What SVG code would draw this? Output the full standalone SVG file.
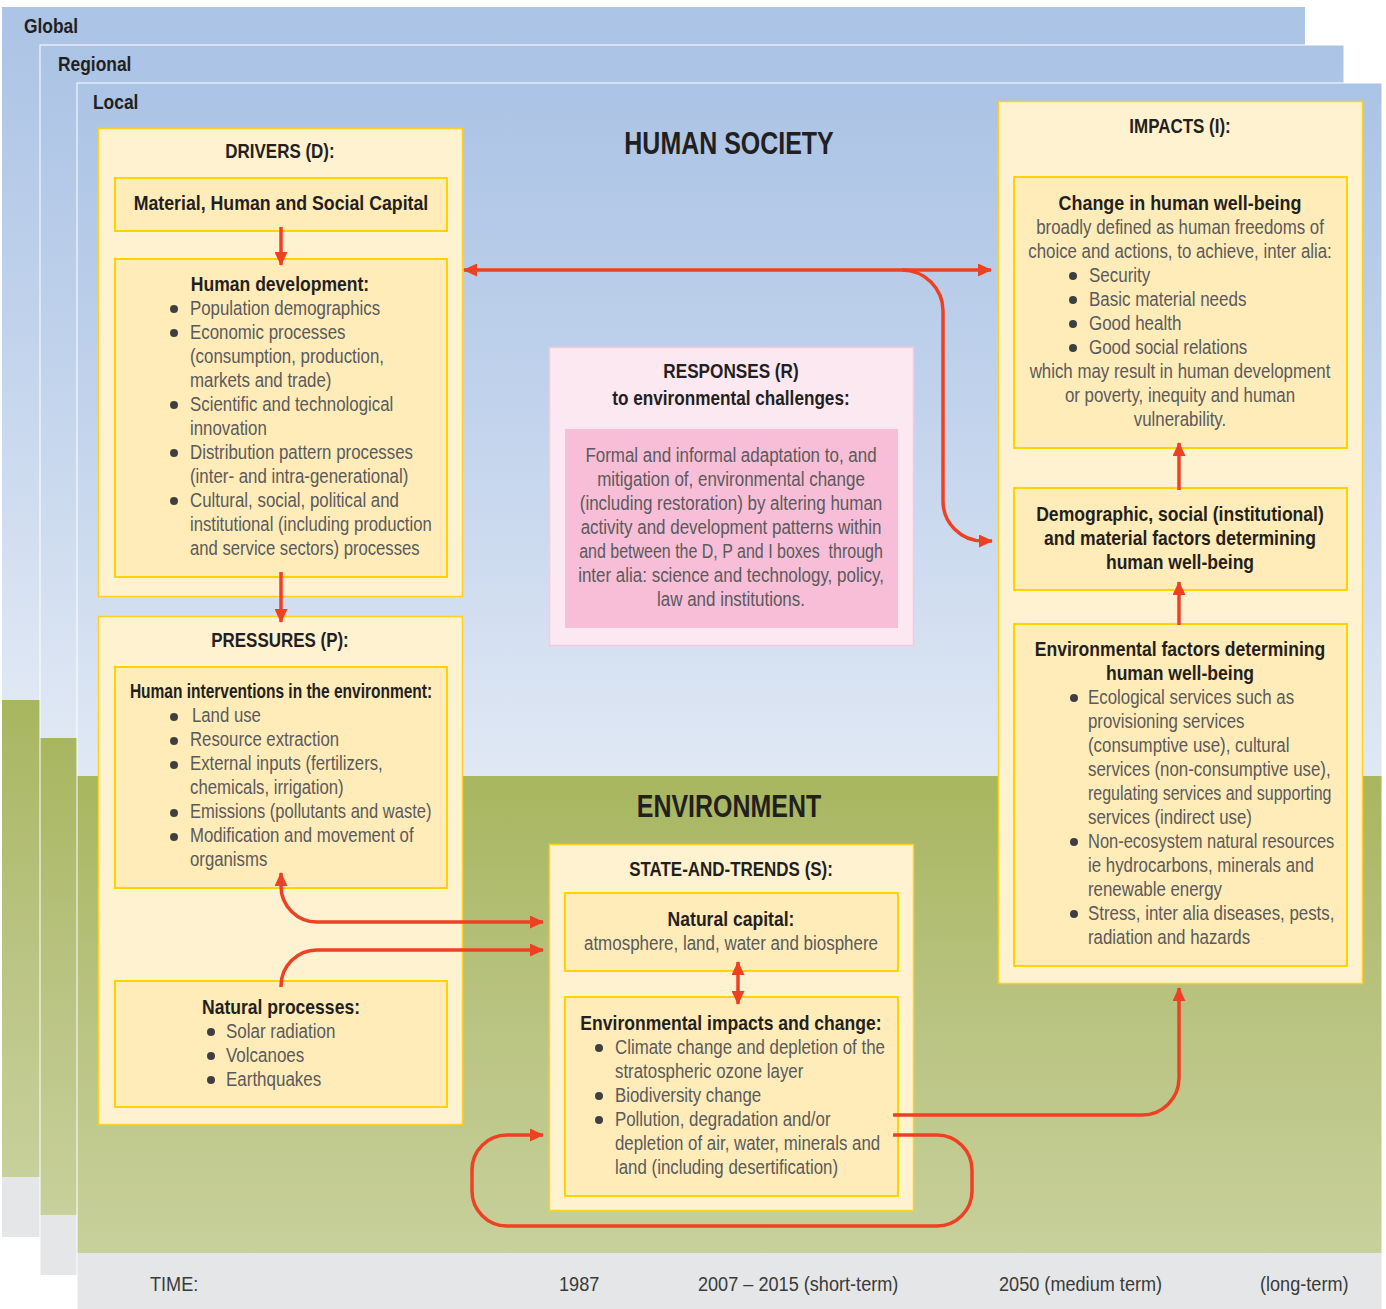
<svg xmlns="http://www.w3.org/2000/svg" width="1386" height="1309" viewBox="0 0 1386 1309">
<defs>
<linearGradient id="sky" x1="0" y1="0" x2="0" y2="1">
<stop offset="0" stop-color="#abc3e5"/>
<stop offset="0.5" stop-color="#c3d4ec"/>
<stop offset="1" stop-color="#e0e8f4"/>
</linearGradient>
<linearGradient id="grass" x1="0" y1="0" x2="0" y2="1">
<stop offset="0" stop-color="#a8b65f"/>
<stop offset="0.5" stop-color="#b9c381"/>
<stop offset="1" stop-color="#c8d09b"/>
</linearGradient>
<marker id="ah" viewBox="0 0 14 13" refX="13" refY="6.5" markerWidth="14" markerHeight="13" markerUnits="userSpaceOnUse" orient="auto-start-reverse">
<path d="M0,0 L14,6.5 L0,13 z" fill="#ee4124"/>
</marker>
<style>
text{font-family:'Liberation Sans',Arial,sans-serif;}
.lay{font-size:20px;font-weight:bold;fill:#231f20;}
.big{font-size:32px;font-weight:bold;fill:#231f20;text-anchor:middle;}
.h{font-size:19.5px;font-weight:bold;fill:#231f20;}
.hc{font-size:19.5px;font-weight:bold;fill:#231f20;text-anchor:middle;}
.b{font-size:19.5px;fill:#5a5a5c;}
.bc{font-size:19.5px;fill:#5a5a5c;text-anchor:middle;}
.tm{font-size:19.5px;fill:#3a3a3a;}
.outer{fill:#fff2d0;stroke:#ffd21f;stroke-width:1.5;}
.inner{fill:#ffecb8;stroke:#ffd200;stroke-width:2;}
.pout{fill:#fce8f1;stroke:#f8c8dc;stroke-width:1.5;}
.pin{fill:#f8bed7;}
.dot{fill:#3f3f41;}
.con{fill:none;stroke:#ee4124;stroke-width:3.5;}
</style>
</defs>

<g id="layers">
<rect x="2" y="7" width="1303" height="693" fill="url(#sky)"/>
<rect x="2" y="700" width="1303" height="477" fill="url(#grass)"/>
<rect x="2" y="1177" width="1303" height="60" fill="#e5e6e8"/>
<rect x="39.5" y="44.5" width="1304" height="1231" fill="#ffffff"/>
<rect x="40.5" y="45.5" width="1303" height="693" fill="url(#sky)"/>
<rect x="40.5" y="738" width="1303" height="477" fill="url(#grass)"/>
<rect x="40.5" y="1215" width="1303" height="60" fill="#e5e6e8"/>
<rect x="76.5" y="82.5" width="1305" height="1227" fill="#ffffff"/>
<rect x="77.5" y="83.5" width="1304" height="693" fill="url(#sky)"/>
<rect x="77.5" y="776" width="1304" height="477" fill="url(#grass)"/>
<rect x="77.5" y="1253" width="1304" height="56" fill="#e5e6e8"/>
<g transform="scale(0.87,1)">
<text class="lay" x="27.6" y="33">Global</text>
<text class="lay" x="66.7" y="71">Regional</text>
<text class="lay" x="106.9" y="109">Local</text>
</g>
</g>

<g id="titles">
<g transform="translate(729,0) scale(0.78,1)">
<text class="big" x="0" y="154">HUMAN SOCIETY</text>
<text class="big" x="0" y="817">ENVIRONMENT</text>
</g>
</g>

<g id="time">
<g transform="scale(0.93,1)">
<text class="tm" x="161.3" y="1291">TIME:</text>
<text class="tm" x="601.1" y="1291">1987</text>
<text class="tm" x="750.5" y="1291">2007 – 2015 (short-term)</text>
<text class="tm" x="1074.2" y="1291">2050 (medium term)</text>
<text class="tm" x="1354.8" y="1291">(long-term)</text>
</g>
</g>

<g id="drivers">
<rect class="outer" x="98.5" y="128.5" width="364" height="468"/>
<g transform="translate(280,0) scale(0.87,1)"><text class="hc" x="0" y="158">DRIVERS (D):</text></g>
</g>
<g id="capital">
<rect class="inner" x="115" y="178" width="332" height="53"/>
<g transform="translate(281,0) scale(0.91,1)"><text class="hc" x="0" y="210">Material, Human and Social Capital</text></g>
</g>
<g id="human-development">
<rect class="inner" x="115" y="259" width="332" height="318"/>
<g transform="translate(280,0) scale(0.9,1)"><text class="hc" x="0" y="291">Human development:</text></g>
<circle class="dot" cx="174" cy="309" r="4"/>
<circle class="dot" cx="174" cy="333" r="4"/>
<circle class="dot" cx="174" cy="405" r="4"/>
<circle class="dot" cx="174" cy="453" r="4"/>
<circle class="dot" cx="174" cy="501" r="4"/>
<g transform="translate(190,0) scale(0.865,1)">
<text class="b" x="0" y="315">Population demographics</text>
<text class="b" x="0" y="339">Economic processes</text>
<text class="b" x="0" y="363">(consumption, production,</text>
<text class="b" x="0" y="387">markets and trade)</text>
<text class="b" x="0" y="411">Scientific and technological</text>
<text class="b" x="0" y="435">innovation</text>
<text class="b" x="0" y="459">Distribution pattern processes</text>
<text class="b" x="0" y="483">(inter- and intra-generational)</text>
<text class="b" x="0" y="507">Cultural, social, political and</text>
</g>
<g transform="translate(190,0) scale(0.855,1)">
<text class="b" x="0" y="531">institutional (including production</text>
<text class="b" x="0" y="555">and service sectors) processes</text>
</g>
</g>

<g id="pressures">
<rect class="outer" x="98.5" y="616.5" width="364" height="508"/>
<g transform="translate(280,0) scale(0.87,1)"><text class="hc" x="0" y="647">PRESSURES (P):</text></g>
</g>
<g id="interventions">
<rect class="inner" x="115" y="667" width="332" height="221"/>
<g transform="translate(281,0) scale(0.795,1)"><text class="hc" x="0" y="698">Human interventions in the environment:</text></g>
<circle class="dot" cx="174" cy="717" r="4"/>
<circle class="dot" cx="174" cy="741" r="4"/>
<circle class="dot" cx="174" cy="765" r="4"/>
<circle class="dot" cx="174" cy="813" r="4"/>
<circle class="dot" cx="174" cy="837" r="4"/>
<g transform="translate(190,0) scale(0.86,1)">
<text class="b" x="2.3" y="722">Land use</text>
<text class="b" x="0" y="746">Resource extraction</text>
<text class="b" x="0" y="770">External inputs (fertilizers,</text>
<text class="b" x="0" y="794">chemicals, irrigation)</text>
<text class="b" x="0" y="842">Modification and movement of</text>
<text class="b" x="0" y="866">organisms</text>
</g>
<g transform="translate(190,0) scale(0.848,1)">
<text class="b" x="0" y="818">Emissions (pollutants and waste)</text>
</g>
</g>
<g id="natural-processes">
<rect class="inner" x="115" y="981" width="332" height="126"/>
<g transform="translate(281,0) scale(0.9,1)"><text class="hc" x="0" y="1014">Natural processes:</text></g>
<circle class="dot" cx="211" cy="1032" r="4"/>
<circle class="dot" cx="211" cy="1056" r="4"/>
<circle class="dot" cx="211" cy="1080" r="4"/>
<g transform="translate(226,0) scale(0.87,1)">
<text class="b" x="0" y="1038">Solar radiation</text>
<text class="b" x="0" y="1062">Volcanoes</text>
<text class="b" x="0" y="1086">Earthquakes</text>
</g>
</g>

<g id="responses">
<rect class="pout" x="549.5" y="347.5" width="364" height="298"/>
<g transform="translate(731,0) scale(0.88,1)">
<text class="hc" x="0" y="378">RESPONSES (R)</text>
<text class="hc" x="0" y="405">to environmental challenges:</text>
</g>
<rect class="pin" x="565" y="429" width="333" height="199"/>
<g transform="translate(731,0) scale(0.87,1)">
<text class="bc" x="0" y="462">Formal and informal adaptation to, and</text>
<text class="bc" x="0" y="486">mitigation of, environmental change</text>
<text class="bc" x="0" y="510">(including restoration) by altering human</text>
<text class="bc" x="0" y="534">activity and development patterns within</text>
<text class="bc" x="0" y="582">inter alia: science and technology, policy,</text>
<text class="bc" x="0" y="606">law and institutions.</text>
</g>
<g transform="translate(731,0) scale(0.82,1)">
<text class="bc" x="0" y="558" xml:space="preserve">and between the D, P and I boxes  through</text>
</g>
</g>

<g id="state">
<rect class="outer" x="549.5" y="844.5" width="364" height="366"/>
<g transform="translate(731,0) scale(0.87,1)"><text class="hc" x="0" y="876">STATE-AND-TRENDS (S):</text></g>
</g>
<g id="natural-capital">
<rect class="inner" x="565" y="893" width="333" height="78"/>
<g transform="translate(731,0) scale(0.9,1)"><text class="hc" x="0" y="926">Natural capital:</text></g>
<g transform="translate(731,0) scale(0.87,1)"><text class="bc" x="0" y="950">atmosphere, land, water and biosphere</text></g>
</g>
<g id="env-impacts">
<rect class="inner" x="565" y="997" width="333" height="199"/>
<g transform="translate(731,0) scale(0.9,1)"><text class="hc" x="0" y="1030">Environmental impacts and change:</text></g>
<circle class="dot" cx="599" cy="1048" r="4"/>
<circle class="dot" cx="599" cy="1096" r="4"/>
<circle class="dot" cx="599" cy="1120" r="4"/>
<g transform="translate(615,0) scale(0.865,1)">
<text class="b" x="0" y="1054">Climate change and depletion of the</text>
<text class="b" x="0" y="1078">stratospheric ozone layer</text>
<text class="b" x="0" y="1102">Biodiversity change</text>
<text class="b" x="0" y="1126">Pollution, degradation and/or</text>
<text class="b" x="0" y="1150">depletion of air, water, minerals and</text>
<text class="b" x="0" y="1174">land (including desertification)</text>
</g>
</g>

<g id="impacts">
<rect class="outer" x="998.5" y="101.5" width="364" height="882"/>
<g transform="translate(1180,0) scale(0.87,1)"><text class="hc" x="0" y="133">IMPACTS (I):</text></g>
</g>
<g id="well-being">
<rect class="inner" x="1014" y="177" width="333" height="271"/>
<g transform="translate(1180,0) scale(0.92,1)"><text class="hc" x="0" y="210">Change in human well-being</text></g>
<g transform="translate(1180,0) scale(0.865,1)">
<text class="bc" x="0" y="234">broadly defined as human freedoms of</text>
<text class="bc" x="0" y="258">choice and actions, to achieve, inter alia:</text>
<text class="bc" x="0" y="378">which may result in human development</text>
<text class="bc" x="0" y="402">or poverty, inequity and human</text>
<text class="bc" x="0" y="426">vulnerability.</text>
</g>
<circle class="dot" cx="1073" cy="276" r="4"/>
<circle class="dot" cx="1073" cy="300" r="4"/>
<circle class="dot" cx="1073" cy="324" r="4"/>
<circle class="dot" cx="1073" cy="348" r="4"/>
<g transform="translate(1089,0) scale(0.87,1)">
<text class="b" x="0" y="282">Security</text>
<text class="b" x="0" y="306">Basic material needs</text>
<text class="b" x="0" y="330">Good health</text>
<text class="b" x="0" y="354">Good social relations</text>
</g>
</g>
<g id="demographic">
<rect class="inner" x="1014" y="488" width="333" height="102"/>
<g transform="translate(1180,0) scale(0.9,1)">
<text class="hc" x="0" y="521">Demographic, social (institutional)</text>
<text class="hc" x="0" y="545">and material factors determining</text>
<text class="hc" x="0" y="569">human well-being</text>
</g>
</g>
<g id="env-factors">
<rect class="inner" x="1014" y="624" width="333" height="342"/>
<g transform="translate(1180,0) scale(0.9,1)">
<text class="hc" x="0" y="656">Environmental factors determining</text>
<text class="hc" x="0" y="680">human well-being</text>
</g>
<circle class="dot" cx="1074" cy="698" r="4"/>
<circle class="dot" cx="1074" cy="842" r="4"/>
<circle class="dot" cx="1074" cy="914" r="4"/>
<g transform="translate(1088,0) scale(0.865,1)">
<text class="b" x="0" y="704">Ecological services such as</text>
<text class="b" x="0" y="728">provisioning services</text>
<text class="b" x="0" y="752">(consumptive use), cultural</text>
<text class="b" x="0" y="776">services (non-consumptive use),</text>
<text class="b" x="0" y="824">services (indirect use)</text>
<text class="b" x="0" y="872">ie hydrocarbons, minerals and</text>
<text class="b" x="0" y="896">renewable energy</text>
<text class="b" x="0" y="920">Stress, inter alia diseases, pests,</text>
<text class="b" x="0" y="944">radiation and hazards</text>
</g>
<g transform="translate(1088,0) scale(0.82,1)">
<text class="b" x="0" y="800">regulating services and supporting</text>
</g>
<g transform="translate(1088,0) scale(0.845,1)">
<text class="b" x="0" y="848">Non-ecosystem natural resources</text>
</g>
</g>

<g id="connectors">
<path class="con" d="M281,227 L281,265" marker-end="url(#ah)"/>
<path class="con" d="M281,572 L281,622" marker-end="url(#ah)"/>
<path class="con" d="M464,270 L991,270" marker-start="url(#ah)" marker-end="url(#ah)"/>
<path class="con" d="M902,270 A41,41 0 0 1 943,311 L943,501 A40,40 0 0 0 983,541 L992,541" marker-end="url(#ah)"/>
<path class="con" d="M281,873 L281,886 A36,36 0 0 0 317,922 L543,922" marker-start="url(#ah)" marker-end="url(#ah)"/>
<path class="con" d="M281,987 L281,986 A36,36 0 0 1 317,950 L543,950" marker-end="url(#ah)"/>
<path class="con" d="M738,962 L738,1004" marker-start="url(#ah)" marker-end="url(#ah)"/>
<path class="con" d="M893,1115 L1142,1115 A37,37 0 0 0 1179,1078 L1179,988" marker-end="url(#ah)"/>
<path class="con" d="M893,1135 L937,1135 A35,35 0 0 1 972,1170 L972,1191 A35,35 0 0 1 937,1226 L507,1226 A35,35 0 0 1 472,1191 L472,1170 A35,35 0 0 1 507,1135 L543,1135" marker-end="url(#ah)"/>
<path class="con" d="M1179,490 L1179,443" marker-end="url(#ah)"/>
<path class="con" d="M1179,625 L1179,582" marker-end="url(#ah)"/>
</g>
</svg>
